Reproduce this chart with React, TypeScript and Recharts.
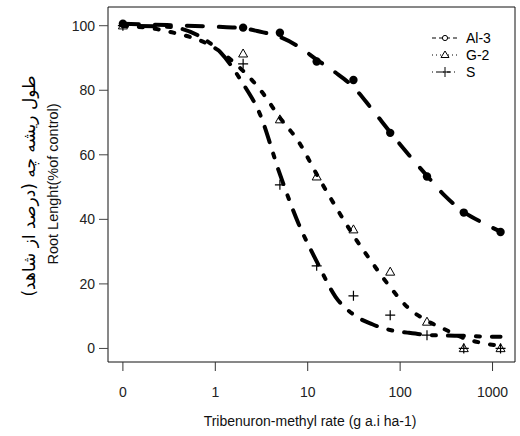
import React from 'react'
import { ComposedChart, Line, XAxis, YAxis, ReferenceArea } from 'recharts'

// doses (g a.i ha-1); the 0 dose is drawn at 0.1 on the log axis, as drc does
const doses = [0, 2, 5, 12.5, 31.25, 78.1, 195.3, 488.3, 1220.7]
const al3Obs = [100.6, 99.4, 97.8, 88.9, 83.2, 66.8, 53.3, 42.1, 36.1]
const g2Obs = [100, 91.3, 70.9, 53.2, 36.8, 23.7, 8.2, 0, 0]
const sObs = [100, 88.2, 50.7, 25.6, 16.3, 10.3, 4.1, 0, 0]

// fitted curves
const curveDoses = [0.1, 0.3, 1, 2, 3, 5, 8, 12.5, 20, 31.25, 50, 78.1, 120, 195.3, 300, 488.3, 800, 1220.7]
const al3Fit = [100.6, 100.2, 99.7, 99.2, 98.2, 96.5, 93.5, 89.5, 85.5, 81, 74, 67, 60.5, 53.5, 47.5, 42.3, 38.8, 36.2]
const g2Fit = [100, 98.3, 93, 86, 80.5, 71.5, 64, 54, 44, 35, 26.5, 19, 12.8, 8.6, 6, 3.2, 1.6, 0.8]
const sFit = [100, 99.7, 93.3, 82, 73, 54, 38.5, 27, 16, 10.5, 7.5, 5.7, 4.9, 4.2, 4, 3.9, 3.7, 3.6]

const xTicks = [0.1, 1, 10, 100, 1000]
const yTicks = [0, 20, 40, 60, 80, 100]

const xPos = (d: number) => (d === 0 ? 0.1 : d)
const points = doses.map((d, i) => ({ x: xPos(d), al3: al3Obs[i], g2: g2Obs[i], s: sObs[i] }))
const curves = curveDoses.map((d, i) => ({ x: d, al3: al3Fit[i], g2: g2Fit[i], s: sFit[i] }))

const font = 'Liberation Sans, Arial, sans-serif'
const X_DOMAIN: [number, number] = [0.069, 1750]
const Y_DOMAIN: [number, number] = [-4.2, 105.8]

const Dot = (p: any) => <circle key={p.index} cx={p.cx} cy={p.cy} r={4.2} fill="#000" />
const Tri = (p: any) => (
  <path key={p.index} d={`M${p.cx},${p.cy - 4.8}L${p.cx + 4.5},${p.cy + 3.2}L${p.cx - 4.5},${p.cy + 3.2}Z`}
    fill="none" stroke="#000" strokeWidth={1} />
)
const Plus = (p: any) => (
  <path key={p.index} d={`M${p.cx - 5},${p.cy}H${p.cx + 5}M${p.cx},${p.cy - 5}V${p.cy + 5}`}
    stroke="#000" strokeWidth={1.2} />
)

function LegendOverlay() {
  const rows = [
    { label: 'Al-3', y: 38, dash: '4 3', mark: 'o' },
    { label: 'G-2', y: 55, dash: '1 3', mark: 't' },
    { label: 'S', y: 72, dash: '1 3 4 3', mark: '+' },
  ]
  return (
    <g>
      {rows.map(r => (
        <g key={r.label}>
          <line x1={432} x2={458} y1={r.y} y2={r.y} stroke="#000" strokeWidth={1} strokeDasharray={r.dash} />
          {r.mark === 'o' && <circle cx={445} cy={r.y} r={2.6} fill="#fff" stroke="#000" />}
          {r.mark === 't' && <path d={`M445,${r.y - 4}L449,${r.y + 2.5}L441,${r.y + 2.5}Z`} fill="#fff" stroke="#000" />}
          {r.mark === '+' && <path d={`M440,${r.y}H450M445,${r.y - 5}V${r.y + 5}`} stroke="#000" />}
          <text x={466} y={r.y + 5} fontSize={14} fontFamily={font}>{r.label}</text>
        </g>
      ))}
    </g>
  )
}

export default function App() {
  return (
    <div style={{ position: 'absolute', left: 0, top: 0, width: 520, height: 436, background: '#fff' }}>
      <ComposedChart width={520} height={436} data={curves}
        margin={{ top: 7, right: 5, left: 0, bottom: 0 }}>
        <XAxis dataKey="x" type="number" scale="log" domain={X_DOMAIN} allowDataOverflow
          ticks={xTicks} tickFormatter={(v: number) => (v === 0.1 ? '0' : String(v))}
          axisLine={false} tickLine={{ stroke: '#333' }} tickSize={9} tickMargin={16} height={74}
          tick={{ fontSize: 14, fill: '#222', fontFamily: font }} interval={0} />
        <YAxis type="number" domain={Y_DOMAIN} allowDataOverflow ticks={yTicks} width={108}
          axisLine={false} tickLine={{ stroke: '#444' }} tickSize={9} tickMargin={4}
          tick={{ fontSize: 14, fill: '#222', fontFamily: font }} interval={0} />
        <ReferenceArea x1={X_DOMAIN[0]} x2={X_DOMAIN[1]} y1={Y_DOMAIN[0]} y2={Y_DOMAIN[1]}
          fill="none" stroke="#111" strokeWidth={1} ifOverflow="visible" />
        <Line dataKey="al3" type="monotone" stroke="#000" strokeWidth={4} strokeDasharray="16 16"
          strokeLinecap="round" dot={false} activeDot={false} isAnimationActive={false} />
        <Line dataKey="g2" type="monotone" stroke="#000" strokeWidth={4} strokeDasharray="4 12"
          strokeLinecap="round" dot={false} activeDot={false} isAnimationActive={false} />
        <Line dataKey="s" type="monotone" stroke="#000" strokeWidth={4} strokeDasharray="4 12 16 12"
          strokeLinecap="round" dot={false} activeDot={false} isAnimationActive={false} />
        <Line data={points} dataKey="al3" stroke="none" dot={Dot} activeDot={false} isAnimationActive={false} />
        <Line data={points} dataKey="g2" stroke="none" dot={Tri} activeDot={false} isAnimationActive={false} />
        <Line data={points} dataKey="s" stroke="none" dot={Plus} activeDot={false} isAnimationActive={false} />
      </ComposedChart>
      <svg width={520} height={436} style={{ position: 'absolute', left: 0, top: 0, pointerEvents: 'none' }}>
        <LegendOverlay />
        <text x={310} y={426} textAnchor="middle" fontSize={14} fontFamily={font} fill="#111">
          Tribenuron-methyl rate (g a.i ha-1)
        </text>
        <text x={58} y={184} textAnchor="middle" fontSize={14.5} fontFamily={font} fill="#111"
          transform="rotate(-90 58 184)">
          Root Lenght(%of control)
        </text>
        <text x={35} y={186} textAnchor="middle" fontSize={17} fontFamily="DejaVu Sans, sans-serif"
          direction="rtl" transform="rotate(-90 35 186)">
          طول ریشه چه (درصد از شاهد)
        </text>
      </svg>
    </div>
  )
}
